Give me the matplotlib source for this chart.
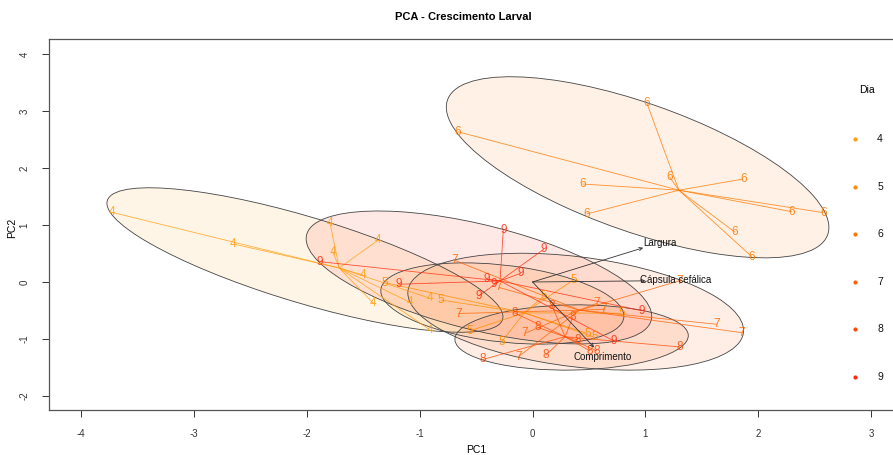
import numpy as np
import matplotlib
matplotlib.use("Agg")
import matplotlib.pyplot as plt
from matplotlib.patches import Ellipse
from matplotlib.lines import Line2D

plt.rcParams['font.family'] = ['Liberation Sans', 'DejaVu Sans']

# ---------------- data ----------------
groups = ['4', '5', '6', '7', '8', '9']
colors = ['#FF9E10', '#FF8C00', '#FF7800', '#FF6200', '#FF4A00', '#FF2C10']

pc1_4 = [-3.727, -2.650, -1.794, -1.366, -1.770, -1.504, -1.410, -1.085, -0.908, -0.908]
pc2_4 = [1.223, 0.667, 1.030, 0.737, 0.532, 0.123, -0.374, -0.356, -0.286, -0.842]

pc1_5 = [-1.306, -0.813, -0.554, -0.273, 0.096, 0.361, 0.790, 0.487, 0.554]
pc2_5 = [-0.012, -0.316, -0.854, -1.047, -0.254, 0.035, -0.549, -0.904, -0.974]

pc1_6 = [1.013, -0.663, 0.441, 1.212, 1.867, 0.480, 2.296, 2.576, 1.794, 1.942]
pc2_6 = [3.135, 2.637, 1.719, 1.847, 1.807, 1.193, 1.233, 1.216, 0.872, 0.444]

pc1_7 = [-0.686, -0.297, -0.657, 0.569, 0.633, -0.066, -0.126, 1.632, 1.853, 1.306]
pc2_7 = [0.377, -0.096, -0.553, -0.374, -0.479, -0.900, -1.311, -0.742, -0.889, 0.023]

pc1_8 = [-0.159, 0.044, 0.356, 0.120, -0.441, 1.306, 0.509, 0.571, 0.403, 0.173]
pc2_8 = [-0.544, -0.798, -0.619, -1.281, -1.360, -1.140, -1.211, -1.211, -1.018, -0.421]

pc1_9 = [-0.259, 0.102, -0.105, -0.406, -0.347, -0.480, -1.189, -1.882, 0.970, 0.716]
pc2_9 = [0.912, 0.579, 0.153, 0.047, -0.040, -0.246, -0.040, 0.356, -0.504, -1.030]

pc1 = [pc1_4, pc1_5, pc1_6, pc1_7, pc1_8, pc1_9]
pc2 = [pc2_4, pc2_5, pc2_6, pc2_7, pc2_8, pc2_9]

var_names = ['Largura', 'Cápsula cefálica', 'Comprimento']
load_pc1 = [0.98, 1.00, 0.545]
load_pc2 = [0.60, 0.02, -1.146]

x_ticks = [-4, -3, -2, -1, 0, 1, 2, 3]
y_ticks = [-2, -1, 0, 1, 2, 3, 4]


# ---------------- helpers ----------------
def mvee(P, tol=1e-7, it=20000):
    N, d = P.shape
    Q = np.vstack([P.T, np.ones(N)])
    u = np.ones(N) / N
    for _ in range(it):
        X = Q @ np.diag(u) @ Q.T
        M = np.einsum('ij,ji->i', Q.T @ np.linalg.inv(X), Q)
        j = np.argmax(M)
        mx = M[j]
        step = (mx - d - 1.0) / ((d + 1.0) * (mx - 1.0))
        nu = (1 - step) * u
        nu[j] += step
        if np.linalg.norm(nu - u) < tol:
            u = nu
            break
        u = nu
    c = P.T @ u
    A = np.linalg.inv(P.T @ np.diag(u) @ P - np.outer(c, c)) / d
    return c, A


# ---------------- figure ----------------
W, H = 893, 455
fig = plt.figure(figsize=(W / 100, H / 100), dpi=100)
ax = fig.add_axes([49 / W, 45 / H, (927.7 - 49) / W, (410 - 39) / H])
ax.set_xlim(-4.283, 3.5)
ax.set_ylim(-2.246, 4.263)

for g, col, xs, ys in zip(groups, colors, pc1, pc2):
    P = np.column_stack([xs, ys])
    c, A = mvee(P)
    evals, evecs = np.linalg.eigh(A)
    ang = np.degrees(np.arctan2(evecs[1, 0], evecs[0, 0]))
    w_, h_ = 2 / np.sqrt(evals[0]) * 1.01, 2 / np.sqrt(evals[1]) * 1.01
    ax.add_patch(Ellipse(c, w_, h_, angle=ang, facecolor=col, alpha=0.1,
                         edgecolor='none', zorder=1))
    ax.add_patch(Ellipse(c, w_, h_, angle=ang, facecolor='none',
                         edgecolor='#444444', lw=0.6, zorder=2))

for g, col, xs, ys in zip(groups, colors, pc1, pc2):
    cx, cy = np.mean(xs), np.mean(ys)
    for x, y in zip(xs, ys):
        ax.plot([cx, x], [cy, y], color=col, lw=0.6, alpha=0.8, zorder=3,
                solid_capstyle='butt')
    for x, y in zip(xs, ys):
        ax.text(x, y, g, color=col, fontsize=8.5, ha='center', va='center',
                alpha=0.85, zorder=4)

# variable arrows
lab_off = [(0.15, 0.08), (0.27, 0.015), (0.08, -0.17)]
for name, lx, ly, (dx, dy) in zip(var_names, load_pc1, load_pc2, lab_off):
    ax.annotate('', xy=(lx, ly), xytext=(0, 0),
                arrowprops=dict(arrowstyle='->', color='#333333', lw=0.6,
                                mutation_scale=6, shrinkA=0, shrinkB=0), zorder=5)
    ax.text(lx + dx, ly + dy, name, fontsize=7, color='#111111', ha='center',
            va='center', zorder=6)

# axes styling
ax.set_xticks(x_ticks)
ax.set_yticks(y_ticks)
ax.set_xticklabels([str(t) for t in x_ticks])
ax.set_yticklabels([str(t) for t in y_ticks], rotation=90, va='center')
ax.tick_params(axis='both', labelsize=7, colors='#333333', length=5, width=0.7,
               direction='out', pad=9)
for s in ax.spines.values():
    s.set_color('#555555')
    s.set_linewidth(0.9)

fig.text(463 / W, 1 - 17 / H, 'PCA - Crescimento Larval', ha='center', va='center',
         fontsize=8, fontweight='bold')
fig.text(476 / W, 1 - 450 / H, 'PC1', ha='center', va='center', fontsize=7.5)
fig.text(12 / W, 1 - 228 / H, 'PC2', ha='center', va='center', fontsize=7.5,
         rotation=90)

# legend
fig.text(867 / W, 1 - 90 / H, 'Dia', ha='center', va='center', fontsize=7.5)
for i, (g, col) in enumerate(zip(groups, colors)):
    yy = 1 - (139 + i * 47.6) / H
    fig.add_artist(Line2D([855 / W], [yy], marker='o', markersize=3, color=col,
                          markeredgewidth=0, linestyle='none', transform=fig.transFigure))
    fig.text(880 / W, yy, g, ha='center', va='center', fontsize=7.5, color='#111111')

fig.savefig('out.png', dpi=100)
